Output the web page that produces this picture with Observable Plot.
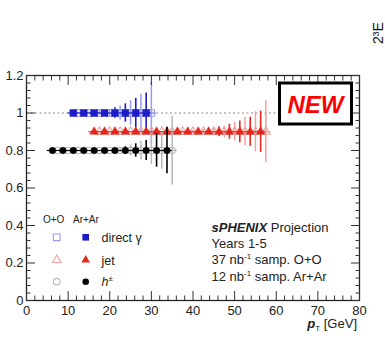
<!DOCTYPE html>
<html><head><meta charset="utf-8">
<script src="https://cdn.jsdelivr.net/npm/d3@7"></script>
<script src="https://cdn.jsdelivr.net/npm/@observablehq/plot@0.6"></script>
<style>body{margin:0;background:#fff;} svg{display:block}</style>
</head><body><div id="chart"></div>
<script>
// ---- data ----
const gammaArX   = [11.25, 13.75, 16.25, 18.75, 21.25, 23.75, 26.25, 28.75];
const gammaArErr = [0, 0.004, 0.008, 0.015, 0.028, 0.049, 0.078, 0.107];
const gammaOOX   = [12.5, 15, 17.5, 20, 22.5, 25, 27.5, 30];
const gammaOOErr = [0, 0.005, 0.012, 0.02, 0.038, 0.065, 0.1, 0.165];
const gammaY = 1.0;

const jetArX   = [16.25, 18.75, 21.25, 23.75, 26.25, 28.75, 31.25, 33.75, 36.25, 38.75, 41.25, 43.75, 46.25, 48.75, 51.25, 53.75, 56.25];
const jetArErr = [0, 0, 0, 0, 0, 0, 0, 0.003, 0.005, 0.007, 0.01, 0.016, 0.025, 0.04, 0.058, 0.078, 0.11];
const jetOOX   = [17.5, 20, 22.5, 25, 27.5, 30, 32.5, 35, 37.5, 40, 42.5, 45, 47.5, 50, 52.5, 55, 57.5];
const jetOOErr = [0, 0, 0, 0, 0, 0, 0.002, 0.004, 0.006, 0.008, 0.012, 0.02, 0.03, 0.05, 0.076, 0.107, 0.165];
const jetY = 0.9;

const hArX   = [6.25, 8.75, 11.25, 13.75, 16.25, 18.75, 21.25, 23.75, 26.25, 28.75, 31.25, 33.75];
const hArErr = [0, 0, 0, 0, 0, 0, 0.008, 0.02, 0.036, 0.053, 0.089, 0.124];
const hOOX   = [7.5, 10, 12.5, 15, 17.5, 20, 22.5, 25, 27.5, 30, 32.5, 35];
const hOOErr = [0, 0, 0, 0, 0, 0, 0.015, 0.03, 0.05, 0.075, 0.1, 0.184];
const hY = 0.8;

const binHalfWidth = 1.25;
const refLine = [{y: 1, x1: 0, x2: 60}];

const xTicks = [0, 10, 20, 30, 40, 50, 60, 70, 80];
const xTickLabels = ["0", "10", "20", "30", "40", "50", "60", "70", "80"];
const yTicks = [0, 0.2, 0.4, 0.6, 0.8, 1.0, 1.2];
const yTickLabels = ["0", "0.2", "0.4", "0.6", "0.8", "1", "1.2"];
const xMinor = d3.range(0, 80.001, 2).filter(v => v % 10 !== 0);
const yMinor = d3.range(0, 1.2001, 0.04).map(v => +v.toFixed(2)).filter(v => Math.abs(v / 0.2 - Math.round(v / 0.2)) > 1e-6);

// ---- colours ----
const C = {
  gammaDark: "#1c1cc8", gammaLight: "#9a9af5",
  jetDark: "#e3271d", jetLight: "#f2a19c",
  hDark: "#000000", hLight: "#b8b8b8"
};

function table(xs, errs, y) { return xs.map((x, i) => ({x, y, e: errs[i]})); }
const gammaAr = table(gammaArX, gammaArErr, gammaY);
const gammaOO = table(gammaOOX, gammaOOErr, gammaY);
const jetAr = table(jetArX, jetArErr, jetY);
const jetOO = table(jetOOX, jetOOErr, jetY);
const hAr = table(hArX, hArErr, hY);
const hOO = table(hOOX, hOOErr, hY);

function seriesMarks(data, color, symbol, r, filled, ew) {
  return [
    Plot.ruleY(data, {y: "y", x1: d => d.x - binHalfWidth, x2: d => d.x + binHalfWidth, stroke: color, strokeWidth: 1.2}),
    Plot.ruleX(data.filter(d => d.e > 0), {x: "x", y1: d => d.y - d.e, y2: d => d.y + d.e, stroke: color, strokeWidth: ew}),
    Plot.dot(data, {x: "x", y: "y", symbol, r, fill: filled ? color : "none", stroke: color, strokeWidth: filled ? 0.5 : 1.1})
  ];
}

const tickColor = "#333";
const plot = Plot.plot({
  width: 385, height: 347,
  marginLeft: 26, marginRight: 26, marginTop: 75, marginBottom: 47,
  x: {domain: [0, 80]},
  y: {domain: [0, 1.2]},
  style: {fontFamily: "'Liberation Sans', Arial, sans-serif", fontSize: "13px", color: "#222", background: "white"},
  marks: [
    Plot.ruleY(refLine, {y: "y", x1: "x1", x2: "x2", stroke: "#888", strokeDasharray: "2,2.5", strokeWidth: 1}),
    ...seriesMarks(gammaOO, C.gammaLight, "square", 3.6, false, 1.5),
    ...seriesMarks(jetOO, C.jetLight, "triangle", 3.2, false, 1.5),
    ...seriesMarks(hOO, C.hLight, "circle", 3.2, false, 1.5),
    ...seriesMarks(gammaAr, C.gammaDark, "square", 3.9, true, 1.6),
    ...seriesMarks(jetAr, C.jetDark, "triangle", 3.2, true, 1.6),
    ...seriesMarks(hAr, C.hDark, "circle", 3.3, true, 1.6),
    Plot.frame({stroke: "#222", strokeWidth: 1.3}),
    // ticks inward on all four sides
    Plot.axisX(xTicks, {anchor: "bottom", tickSize: -9, fill: "none", stroke: tickColor, label: null}),
    Plot.axisX(xMinor, {anchor: "bottom", tickSize: -4.5, fill: "none", stroke: tickColor, label: null}),
    Plot.axisX(xTicks, {anchor: "top", tickSize: -9, fill: "none", stroke: tickColor, label: null}),
    Plot.axisX(xMinor, {anchor: "top", tickSize: -4.5, fill: "none", stroke: tickColor, label: null}),
    Plot.axisY(yTicks, {anchor: "left", tickSize: -9, fill: "none", stroke: tickColor, label: null}),
    Plot.axisY(yMinor, {anchor: "left", tickSize: -4.5, fill: "none", stroke: tickColor, label: null}),
    Plot.axisY(yTicks, {anchor: "right", tickSize: -9, fill: "none", stroke: tickColor, label: null}),
    Plot.axisY(yMinor, {anchor: "right", tickSize: -4.5, fill: "none", stroke: tickColor, label: null}),
    // labels
    Plot.axisX(xTicks, {anchor: "bottom", tickSize: 0, tickPadding: 5, tickFormat: (d, i) => xTickLabels[i], label: null, fill: "#222"}),
    Plot.axisY(yTicks, {anchor: "left", tickSize: 0, tickPadding: 3, tickFormat: (d, i) => yTickLabels[i], label: null, fill: "#222"})
  ]
});
document.getElementById("chart").appendChild(plot);

// ---- annotations (pixel layout) ----
const svg = d3.select(plot);
const F = "'Liberation Sans', Arial, sans-serif";
const ann = svg.append("g").attr("font-family", F).attr("fill", "#222").attr("text-anchor", "start");

// NEW box
ann.append("rect").attr("x", 279.5).attr("y", 83).attr("width", 72).attr("height", 41)
  .attr("fill", "white").attr("stroke", "black").attr("stroke-width", 3);
ann.append("text").attr("x", 315.5).attr("y", 112.5).attr("text-anchor", "middle")
  .attr("font-size", 24).attr("font-weight", "bold").attr("font-style", "italic").attr("fill", "#ff0000").text("NEW");

// legend
ann.append("text").attr("x", 43).attr("y", 222.5).attr("font-size", 10).text("O+O");
ann.append("text").attr("x", 73).attr("y", 222.5).attr("font-size", 10).text("Ar+Ar");
const leg = [
  {sym: d3.symbolSquare, light: C.gammaLight, dark: C.gammaDark, y: 237.3, size: 44},
  {sym: d3.symbolTriangle, light: C.jetLight, dark: C.jetDark, y: 260, size: 32},
  {sym: d3.symbolCircle, light: C.hLight, dark: C.hDark, y: 281.7, size: 34}
];
leg.forEach(l => {
  ann.append("path").attr("d", d3.symbol(l.sym, l.size)()).attr("transform", `translate(56.7,${l.y})`)
    .attr("fill", "none").attr("stroke", l.light).attr("stroke-width", 1.1);
  ann.append("path").attr("d", d3.symbol(l.sym, l.size)()).attr("transform", `translate(85.7,${l.y})`)
    .attr("fill", l.dark);
});
ann.append("text").attr("x", 101.5).attr("y", 241.5).attr("font-size", 12.5).text("direct γ");
ann.append("text").attr("x", 101.5).attr("y", 264.5).attr("font-size", 12.5).text("jet");
const ht = ann.append("text").attr("x", 101.5).attr("y", 286).attr("font-size", 12.5);
ht.append("tspan").attr("font-style", "italic").text("h");
ht.append("tspan").attr("font-size", 8).attr("dy", -5).text("±");

// sPHENIX projection block
const t1 = ann.append("text").attr("x", 211.5).attr("y", 231.5).attr("font-size", 13);
t1.append("tspan").attr("font-weight", "bold").attr("font-style", "italic").text("sPHENIX");
t1.append("tspan").text(" Projection");
ann.append("text").attr("x", 211.5).attr("y", 248).attr("font-size", 13).text("Years 1-5");
[["37 nb", " samp. O+O", 264.3], ["12 nb", " samp. Ar+Ar", 280.6]].forEach(([a, b, y]) => {
  const t = ann.append("text").attr("x", 211.5).attr("y", y).attr("font-size", 13);
  t.append("tspan").text(a);
  t.append("tspan").attr("font-size", 8).attr("dy", -5).text("-1");
  t.append("tspan").attr("dy", 5).text(b);
});

// x axis title
const xl = ann.append("text").attr("x", 357).attr("y", 327.5).attr("text-anchor", "end").attr("font-size", 13);
xl.append("tspan").attr("font-style", "italic").attr("font-weight", "bold").text("p");
xl.append("tspan").attr("font-size", 8).attr("dy", 3).text("T");
xl.append("tspan").attr("dy", -3).text(" [GeV]");

// cropped neighbouring label at top right
ann.append("text").attr("transform", "translate(383,44) rotate(-90)").attr("font-size", 14).attr("fill", "#111")
  .text("2³E");
</script>
</body></html>
